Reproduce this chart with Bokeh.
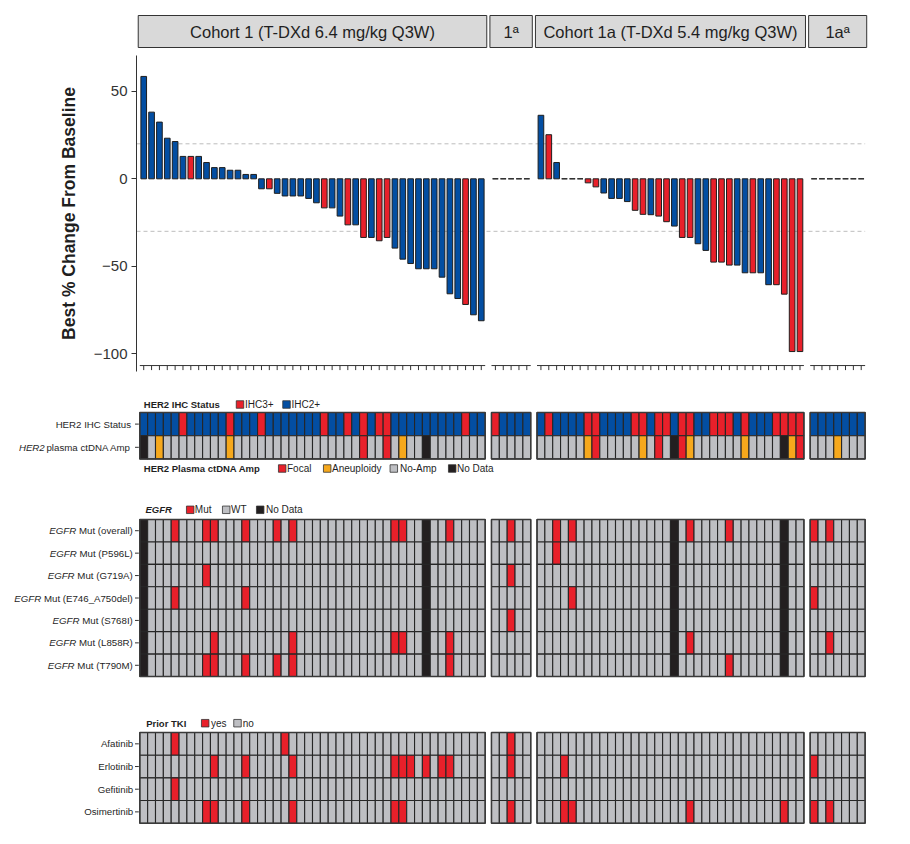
import glob
from bokeh.plotting import figure
from bokeh.layouts import column
from bokeh.models import Range1d, FixedTicker, ColumnDataSource
from bokeh.core.properties import value
from bokeh.embed import file_html
from bokeh.resources import INLINE

# ---------------- data ----------------
panel_keys = ["c1", "x1", "c1a", "x1a"]
panel_titles = ["Cohort 1 (T-DXd 6.4 mg/kg Q3W)", "1ª", "Cohort 1a (T-DXd 5.4 mg/kg Q3W)", "1aª"]
panel_n = [44, 5, 34, 7]

# best % change from baseline (waterfall)
change_c1 = [58.5, 38.1, 32.4, 23.2, 21.3, 12.8, 12.8, 12.8, 9.3, 6.4, 6.4, 4.9, 4.9, 2.5, 2.5,
             -5.7, -5.7, -8.3, -9.8, -9.8, -9.8, -11.2, -13.7, -16.6, -16.6, -21.3, -26.3, -26.3,
             -33.5, -33.5, -35.4, -33.5, -39.6, -45.9, -48.4, -51.4, -51.4, -51.4, -56.2, -65.7,
             -68.4, -71.8, -77.7, -81.1]
change_x1 = [0, 0, 0, 0, 0]
change_c1a = [36.3, 25.2, 9.3, 0, 0, 0, -2.3, -4.6, -8.1, -11.2, -11.2, -13.0, -18.0, -20.3,
              -20.5, -21.3, -24.5, -27.0, -33.5, -33.5, -37.1, -40.9, -47.6, -47.6, -49.3, -49.3,
              -53.7, -53.7, -53.7, -60.5, -60.5, -65.9, -98.7, -98.7]
change_x1a = [0, 0, 0, 0, 0, 0, 0]

# patients (1-based position) with HER2 IHC3+ (others IHC2+)
ihc3_bars = {"c1": [7, 17, 24, 27, 29, 31, 32, 42], "x1": [1],
             "c1a": [2, 7, 8, 13, 14, 16, 17, 19, 20, 23, 24, 25, 28, 31, 32, 33, 34], "x1a": []}
ihc3_heat = {"c1": [6, 12, 16, 24, 27, 29, 31, 32, 42], "x1": [1],
             "c1a": [2, 7, 8, 13, 14, 16, 17, 19, 20, 23, 24, 25, 27, 31, 32, 33, 34], "x1a": []}

# HER2 plasma ctDNA amplification (others No-Amp)
ctdna_c1 = {1: "No Data", 3: "Aneuploidy", 12: "Aneuploidy", 29: "Focal", 32: "Focal",
            34: "Aneuploidy", 37: "No Data"}
ctdna_x1 = {}
ctdna_c1a = {7: "Aneuploidy", 8: "Focal", 14: "Aneuploidy", 16: "Focal", 18: "No Data",
             19: "Focal", 20: "Aneuploidy", 27: "Aneuploidy", 32: "No Data", 33: "Aneuploidy",
             34: "Focal"}
ctdna_x1a = {4: "Aneuploidy"}

# EGFR mutations (patient positions), others WT
egfr_nodata = {"c1": [1, 37], "x1": [], "c1a": [18, 32], "x1a": []}
egfr_overall = {"c1": [5, 9, 10, 14, 18, 20, 33, 34, 40], "x1": [3], "c1a": [3, 5, 20, 25], "x1a": [1, 3]}
egfr_p596l = {"c1": [], "x1": [], "c1a": [3], "x1a": []}
egfr_g719a = {"c1": [9], "x1": [3], "c1a": [], "x1a": []}
egfr_e746 = {"c1": [5, 14], "x1": [], "c1a": [5], "x1a": [1]}
egfr_s768i = {"c1": [], "x1": [3], "c1a": [], "x1a": []}
egfr_l858r = {"c1": [10, 20, 33, 34, 40], "x1": [], "c1a": [20], "x1a": [3]}
egfr_t790m = {"c1": [9, 10, 14, 18, 20, 40], "x1": [], "c1a": [25], "x1a": []}
egfr_rows = ["(overall)", "(P596L)", "(G719A)", "(E746_A750del)", "(S768I)", "(L858R)", "(T790M)"]

# Prior TKI (patient positions with "yes")
tki_afatinib = {"c1": [5, 19], "x1": [3], "c1a": [], "x1a": []}
tki_erlotinib = {"c1": [10, 14, 20, 33, 34, 35, 37, 39, 40], "x1": [3], "c1a": [4], "x1a": [1]}
tki_gefitinib = {"c1": [5], "x1": [], "c1a": [], "x1a": []}
tki_osimertinib = {"c1": [9, 10, 14, 20, 33, 34], "x1": [3], "c1a": [4, 5, 20, 32], "x1a": [1, 3]}
tki_rows = ["Afatinib", "Erlotinib", "Gefitinib", "Osimertinib"]

# ---------------- style / layout ----------------
RED = "#E8202A"
BLUE = "#034EA2"
ORANGE = "#F6A81C"
GREY = "#BEBFC3"
BLACK = "#231F20"
TXT = "#1f1f1f"
FONT = "Liberation Sans"
LBL = 9.7      # row label font size (px)
PX = 7.85      # pixels per patient column
X0 = 139.3     # page x of first column edge
OFFS = [0.0, 44.8, 50.6, 85.4]
FW = 890


def ux(px):
    return (px - X0) / PX


XF0 = ux(0)
XF1 = XF0 + FW / PX

_font_cache = {}


def text_width(s, size, bold=False, italic=False):
    style = ("BoldItalic" if bold and italic else "Bold" if bold else "Italic" if italic else "Regular")
    try:
        from PIL import ImageFont
        if style not in _font_cache:
            paths = glob.glob("/usr/share/fonts/**/LiberationSans-%s.ttf" % style, recursive=True)
            _font_cache[style] = ImageFont.truetype(paths[0], size=100)
        return _font_cache[style].getlength(s) * size / 100.0
    except Exception:
        return len(s) * size * 0.52


def blank(p):
    p.xgrid.visible = False
    p.ygrid.visible = False
    p.outline_line_color = None
    p.background_fill_color = "white"
    p.border_fill_color = "white"
    try:
        p.frame_align = False
    except Exception:
        pass


def full_fig(h, yr):
    p = figure(frame_width=FW, frame_height=h, min_border=0, x_range=Range1d(XF0, XF1), y_range=yr,
               x_axis_location=None, y_axis_location=None, output_backend="svg",
               toolbar_location=None)
    blank(p)
    return p


# ---------------- header strips ----------------
hdr = full_fig(50, Range1d(50, 0))
hdr.quad(left=[OFFS[i] - 0.2 for i in range(4)], right=[OFFS[i] + panel_n[i] + 0.2 for i in range(4)],
         top=[15] * 4, bottom=[47] * 4, fill_color="#D9D9D9", line_color="#333333", line_width=1)
hdr.text(x=[OFFS[i] + panel_n[i] / 2 for i in range(4)], y=[31.5] * 4, text=panel_titles,
         text_font=value(FONT), text_font_size="16.5px", text_align="center",
         text_baseline="middle", text_color=TXT)

# ---------------- waterfall ----------------
changes = {"c1": change_c1, "x1": change_x1, "c1a": change_c1a, "x1a": change_x1a}
bx, btop, bcol = [], [], []
for i, k in enumerate(panel_keys):
    for j, v in enumerate(changes[k], start=1):
        bx.append(OFFS[i] + j - 0.5)
        btop.append(v)
        bcol.append(RED if j in ihc3_bars[k] else BLUE)
src = ColumnDataSource(dict(x=bx, top=btop, color=bcol))

WL = 136
XW0 = ux(WL)
WFW = 744
wf = figure(frame_width=WFW, frame_height=316, min_border_left=WL, min_border_right=10,
            min_border_top=5, min_border_bottom=14,
            x_range=Range1d(XW0, XW0 + WFW / PX), y_range=Range1d(-110.1, 70.46),
            x_axis_location=None, output_backend="svg", toolbar_location=None)
blank(wf)
for yv in (20, -30):
    wf.segment(x0=[XW0], x1=[OFFS[3] + panel_n[3]], y0=[yv], y1=[yv], line_color="#BDBDBD",
               line_width=1, line_dash="4 3")
wf.vbar(x="x", top="top", bottom=0, width=0.72, fill_color="color", line_color="#1e1e1e",
        line_width=1, source=src)
# per-panel bottom axis with one tick per patient
for i in range(4):
    wf.segment(x0=[OFFS[i]], x1=[OFFS[i] + panel_n[i]], y0=[-106.7], y1=[-106.7],
               line_color="#333333", line_width=1)
    cx = [OFFS[i] + j - 0.5 for j in range(1, panel_n[i] + 1)]
    wf.segment(x0=cx, x1=cx, y0=[-106.7] * len(cx), y1=[-109.3] * len(cx),
               line_color="#333333", line_width=1)
ya = wf.yaxis[0]
ya.ticker = FixedTicker(ticks=[-100, -50, 0, 50])
ya.minor_tick_line_color = None
ya.major_tick_in = 0
ya.major_tick_out = 5
ya.major_tick_line_color = "#333333"
ya.axis_line_color = "#333333"
ya.major_label_text_font = FONT
ya.major_label_text_font_size = "15px"
ya.major_label_text_color = "#333333"
ya.major_label_standoff = 4
ya.axis_label = "Best % Change From Baseline"
ya.axis_label_text_font = FONT
ya.axis_label_text_font_style = "bold"
ya.axis_label_text_font_size = "17.5px"
ya.axis_label_text_color = TXT
ya.axis_label_standoff = 12


# ---------------- helpers for heatmaps ----------------
def heat_fig(fig_top, fig_h, grid_top, row_h):
    yt = (fig_top - grid_top) / row_h
    yb = (fig_top + fig_h - grid_top) / row_h
    return full_fig(fig_h, Range1d(yb, yt))


def draw_cells(p, rows_colors, nrows):
    L, R, T, B, C = [], [], [], [], []
    for r, per_panel in enumerate(rows_colors):
        for i in range(4):
            for j, c in enumerate(per_panel[i]):
                L.append(OFFS[i] + j)
                R.append(OFFS[i] + j + 1)
                T.append(r)
                B.append(r + 1)
                C.append(c)
    p.quad(left=L, right=R, top=T, bottom=B, fill_color=C, line_color="#262626", line_width=1.1)
    p.quad(left=[OFFS[i] for i in range(4)], right=[OFFS[i] + panel_n[i] for i in range(4)],
           top=[0] * 4, bottom=[nrows] * 4, fill_color=None, line_color="#3a3a3a", line_width=1.5)


def row_labels(p, labels, label_right=131.5):
    """labels: list of (italic_part, normal_part)"""
    ys = [r + 0.5 for r in range(len(labels))]
    xr = ux(label_right)
    p.text(x=[xr] * len(labels), y=ys, text=[nm for _, nm in labels], text_font=value(FONT),
           text_font_size="%.1fpx" % LBL, text_align="right", text_baseline="middle",
           text_color=TXT)
    it_l = [(y, it, nm) for y, (it, nm) in zip(ys, labels) if it]
    if it_l:
        gap = text_width(" ", LBL)
        p.text(x=[xr - (text_width(nm, LBL) + gap) / PX for _, _, nm in it_l],
               y=[y for y, _, _ in it_l],
               text=[it for _, it, _ in it_l], text_font=value(FONT),
               text_font_size="%.1fpx" % LBL,
               text_font_style=value("italic"), text_align="right", text_baseline="middle",
               text_color=TXT)
    p.segment(x0=[ux(134.5)] * len(ys), x1=[ux(138.3)] * len(ys), y0=ys, y1=ys,
              line_color="#333333", line_width=1)


def legend(p, y, title_x, title, items, title_style="bold"):
    p.text(x=[ux(title_x)], y=[y], text=[title], text_font=value(FONT), text_font_size="9.5px",
           text_font_style=value(title_style), text_align="left", text_baseline="middle",
           text_color=TXT)
    p.scatter(x=[ux(sx) for sx, _, _, _ in items], y=[y] * len(items), marker="square", size=7.5,
              fill_color=[c for _, c, _, _ in items], line_color="#333333", line_width=0.8)
    p.text(x=[ux(tx) for _, _, _, tx in items], y=[y] * len(items),
           text=[lab for _, _, lab, _ in items], text_font=value(FONT), text_font_size="10px",
           text_align="left", text_baseline="middle", text_color=TXT)


# ---------------- HER2 section ----------------
ctdna = {"c1": ctdna_c1, "x1": ctdna_x1, "c1a": ctdna_c1a, "x1a": ctdna_x1a}
ctcol = {"Focal": RED, "Aneuploidy": ORANGE, "No-Amp": GREY, "No Data": BLACK}
ihc_row = [[RED if j in ihc3_heat[k] else BLUE for j in range(1, n + 1)]
           for k, n in zip(panel_keys, panel_n)]
ct_row = [[ctcol[ctdna[k].get(j, "No-Amp")] for j in range(1, n + 1)]
          for k, n in zip(panel_keys, panel_n)]

her2 = heat_fig(385, 105, 412, 23.2)
draw_cells(her2, [ihc_row, ct_row], 2)
row_labels(her2, [("", "HER2 IHC Status"), ("HER2", "plasma ctDNA Amp")], label_right=130.5)
legend(her2, (404 - 412) / 23.2, 143.3, "HER2 IHC Status",
       [(239.5, RED, "IHC3+", 244.5), (286, BLUE, "IHC2+", 291)])
legend(her2, (468 - 412) / 23.2, 143.3, "HER2 Plasma ctDNA Amp",
       [(281.7, RED, "Focal", 286.5), (326.7, ORANGE, "Aneuploidy", 331.5),
        (393.3, GREY, "No-Amp", 399.5), (451.7, BLACK, "No Data", 456.5)])

# ---------------- EGFR section ----------------
egfr_data = [egfr_overall, egfr_p596l, egfr_g719a, egfr_e746, egfr_s768i, egfr_l858r, egfr_t790m]
egfr_colors = []
for d in egfr_data:
    egfr_colors.append([[BLACK if j in egfr_nodata[k] else (RED if j in d[k] else GREY)
                         for j in range(1, n + 1)] for k, n in zip(panel_keys, panel_n)])
egfr = heat_fig(490, 210, 519, 22.43)
draw_cells(egfr, egfr_colors, 7)
row_labels(egfr, [("EGFR", "Mut " + r) for r in egfr_rows], label_right=132.3)
legend(egfr, (509.3 - 519) / 22.43, 145, "EGFR",
       [(189.7, RED, "Mut", 194.3), (225.7, GREY, "WT", 230.5), (259.7, BLACK, "No Data", 265.5)],
       title_style="bold italic")

# ---------------- Prior TKI section ----------------
tki_data = [tki_afatinib, tki_erlotinib, tki_gefitinib, tki_osimertinib]
tki_colors = [[[RED if j in d[k] else GREY for j in range(1, n + 1)]
               for k, n in zip(panel_keys, panel_n)] for d in tki_data]
tki = heat_fig(700, 136, 732, 22.68)
draw_cells(tki, tki_colors, 4)
row_labels(tki, [("", r) for r in tki_rows], label_right=132.7)
legend(tki, (722.7 - 732) / 22.68, 145.7, "Prior TKI",
       [(204.7, RED, "yes", 210.5), (237, GREY, "no", 242.3)])

layout = column(hdr, wf, her2, egfr, tki, spacing=0)
with open("out.html", "w") as f:
    f.write(file_html(layout, INLINE))
